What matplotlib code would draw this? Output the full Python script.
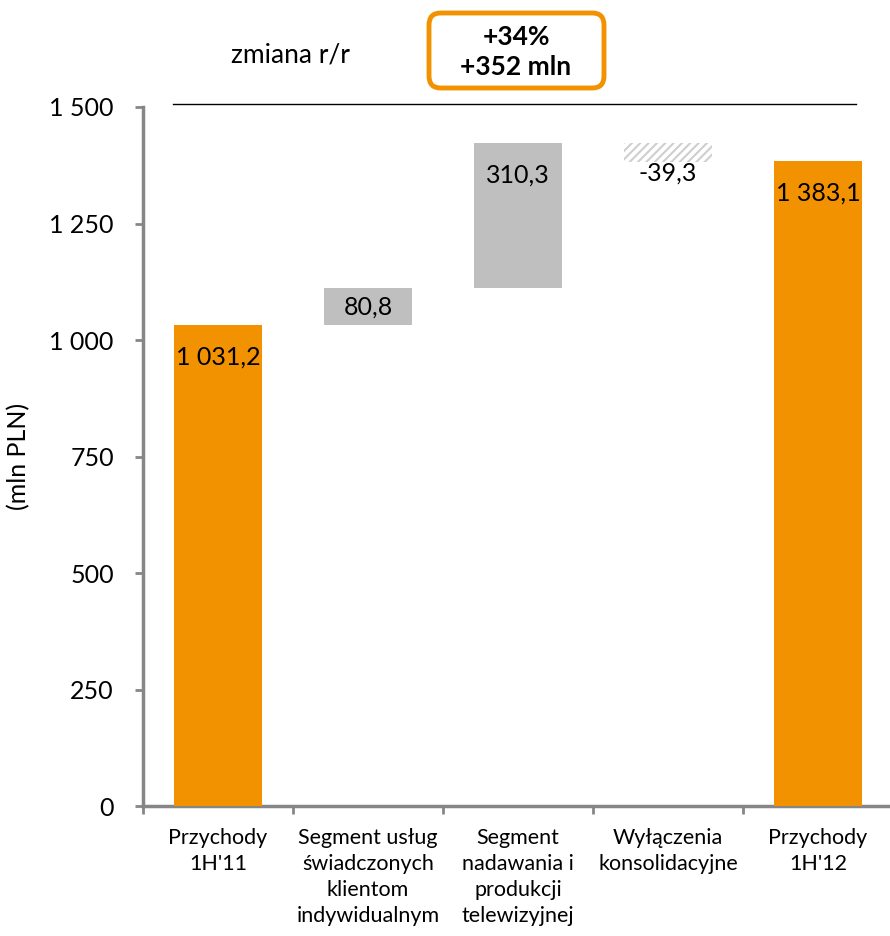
import matplotlib
matplotlib.use("Agg")
import matplotlib.pyplot as plt
from matplotlib.patches import FancyBboxPatch

plt.rcParams['font.family'] = ['Lato', 'DejaVu Sans']
plt.rcParams['hatch.linewidth'] = 1.5

# dane (mln PLN)
kategorie = ["Przychody\n1H'11", "Segment usług\nświadczonych\nklientom\nindywidualnym",
             "Segment\nnadawania i\nprodukcji\ntelewizyjnej", "Wyłączenia\nkonsolidacyjne",
             "Przychody\n1H'12"]
wartosci = [1031.2, 80.8, 310.3, -39.3, 1383.1]
typy = ["total", "delta", "delta", "delta", "total"]
etykiety = ["1 031,2", "80,8", "310,3", "-39,3", "1 383,1"]
yticks = [0, 250, 500, 750, 1000, 1250, 1500]
ytick_labels = ["0", "250", "500", "750", "1 000", "1 250", "1 500"]
zmiana = "+34%\n+352 mln"

ORANGE = '#F39200'
GREY = '#BFBFBF'
AXIS = '#868686'

fig = plt.figure(figsize=(8.9, 9.36), dpi=100)
ax = fig.add_axes([143 / 890, 1 - 806 / 936, (893 - 143) / 890, (806 - 107) / 936])

# waterfall - liczymy podstawy
running = 0
for i, (v, t) in enumerate(zip(wartosci, typy)):
    if t == "total":
        bottom, h = 0, v
        running = v
        ax.bar(i, h, bottom=bottom, width=0.59, color=ORANGE, zorder=3)
        label_y, off = bottom + h, -23
    else:
        start = running
        running += v
        bottom, h = min(start, running), abs(v)
        if v >= 0:
            ax.bar(i, h, bottom=bottom, width=0.59, color=GREY, zorder=3)
            top = bottom + h
            px = h / 1500 * 699
            label_y, off = top, -min(32, px / 2) * 0.72
        else:
            ax.bar(i, h, bottom=bottom, width=0.59, color='white', edgecolor='#CFCFCF',
                   hatch='////', linewidth=0, zorder=3)
            label_y, off = bottom, -8
    ax.annotate(etykiety[i], (i, label_y), xytext=(0, off), textcoords='offset points',
                ha='center', va='center', fontsize=18, zorder=4)

ax.set_xlim(-0.5, 4.5)
ax.set_ylim(0, 1500)
ax.set_yticks(yticks)
ax.set_yticklabels(ytick_labels, fontsize=18)
ax.set_xticks(range(len(kategorie)))
ax.set_xticklabels(kategorie, fontsize=15.5, linespacing=1.38, va='top')
ax.set_xticks([i - 0.5 for i in range(len(kategorie) + 1)], minor=True)
ax.tick_params(axis='x', which='major', length=0, pad=16)
ax.tick_params(axis='x', which='minor', length=6, color=AXIS, width=2)
ax.tick_params(axis='y', length=6, color=AXIS, width=2, pad=15)
for s in ['top', 'right']:
    ax.spines[s].set_visible(False)
for s in ['left', 'bottom']:
    ax.spines[s].set_color(AXIS)
    ax.spines[s].set_linewidth(2.5)
ax.set_ylabel("(mln PLN)", fontsize=18, labelpad=14)

# linia i ramka "zmiana r/r"
ax.plot([-0.3, 4.25], [1507, 1507], color='black', lw=1, clip_on=False)
fig.text(290 / 890, 1 - 55 / 936, "zmiana r/r", fontsize=19, ha='center', va='center')
box = FancyBboxPatch((429 / 890, 1 - 88 / 936), 175 / 890, 75 / 936,
                     boxstyle="round,pad=0,rounding_size=0.013", transform=fig.transFigure,
                     facecolor='white', edgecolor=ORANGE, linewidth=3.5)
fig.patches.append(box)
fig.text(516 / 890, 1 - 52 / 936, zmiana, fontsize=19, fontweight='bold',
         ha='center', va='center', linespacing=1.3)

fig.savefig("out.png", dpi=100)
